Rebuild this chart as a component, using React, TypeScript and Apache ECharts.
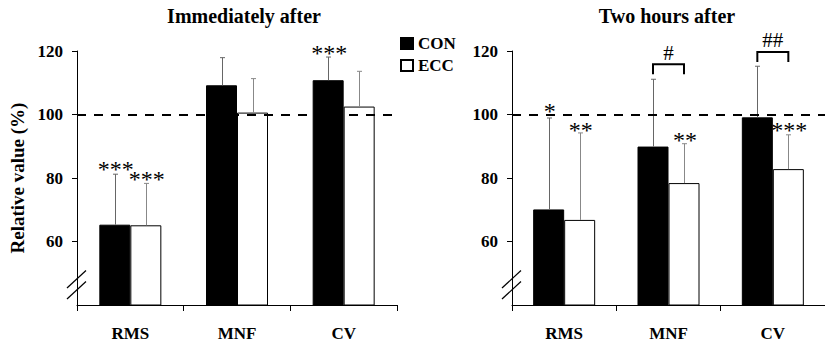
import React, { useEffect, useRef } from "react";
import * as echarts from "echarts";

const categories = ["RMS", "MNF", "CV"];
const yTicks = [40, 60, 80, 100, 120];
const seriesNames = ["CON", "ECC"];
const titles = ["Immediately after", "Two hours after"];

// Immediately after
const conMeanA = [65.3, 109.2, 110.8];
const conUpperA = [81.2, 117.9, 118.1];
const eccMeanA = [65.1, 100.6, 102.5];
const eccUpperA = [78.3, 111.3, 113.6];

// Two hours after
const conMeanB = [70.1, 89.9, 99.1];
const conUpperB = [98.9, 111.1, 115.2];
const eccMeanB = [66.8, 78.4, 82.8];
const eccUpperB = [94.2, 90.8, 93.6];

// significance marks: [category, side (0 CON, 1 ECC), value, text]
const starsA: [number, number, number, string][] = [
  [0, 0, 84.7, "***"],
  [0, 1, 81.6, "***"],
  [2, 0, 121.3, "***"],
];
const starsB: [number, number, number, string][] = [
  [0, 0, 103.0, "*"],
  [0, 1, 97.0, "**"],
  [1, 1, 93.9, "**"],
  [2, 1, 97.0, "***"],
];
// brackets between CON and ECC: [category, bottom, top, label, labelValue]
const bracketsB: [number, number, number, string, number][] = [
  [1, 112.7, 115.8, "#", 119.4],
  [2, 116.5, 119.7, "##", 123.4],
];

const FONT = "'Liberation Serif', 'Times New Roman', serif";
const HALF = 15.5;
const GRIDS = [
  { left: 77, top: 51, width: 320, height: 254 },
  { left: 512, top: 51, width: 321, height: 254 },
];

export default function App() {
  const ref = useRef<HTMLDivElement>(null);
  useEffect(() => {
    if (!ref.current) return;
    const chart = echarts.init(ref.current, undefined, { renderer: "svg" });

    const errSeries = (idx: number, con: number[], conU: number[], ecc: number[], eccU: number[]) => {
      const data: number[][] = [];
      con.forEach((v, i) => data.push([i, 0, v, conU[i]]));
      ecc.forEach((v, i) => data.push([i, 1, v, eccU[i]]));
      return {
        type: "custom",
        xAxisIndex: idx,
        yAxisIndex: idx,
        z: 5,
        silent: true,
        data,
        renderItem: (params: any, api: any) => {
          const cat = api.value(0);
          const side = api.value(1);
          const dx = side === 0 ? -HALF : HALF;
          const p0 = api.coord([cat, api.value(2)]);
          const p1 = api.coord([cat, api.value(3)]);
          const x = Math.round(p0[0] + dx) + 0.5;
          const color = side === 0 ? "#666" : "#888";
          return {
            type: "group",
            children: [
              { type: "line", shape: { x1: x, y1: p0[1], x2: x, y2: p1[1] }, style: { stroke: color, lineWidth: 1 } },
              { type: "line", shape: { x1: x - 2.5, y1: p1[1], x2: x + 2.5, y2: p1[1] }, style: { stroke: color, lineWidth: 1 } },
            ],
          };
        },
      };
    };

    const starSeries = (idx: number, stars: [number, number, number, string][]) => ({
      type: "custom",
      xAxisIndex: idx,
      yAxisIndex: idx,
      z: 6,
      silent: true,
      data: stars.map((s) => [s[0], s[1], s[2], s[3]]),
      renderItem: (params: any, api: any) => {
        const d = stars[params.dataIndex];
        const p = api.coord([d[0], d[2]]);
        const dx = d[1] === 0 ? -HALF : HALF;
        return {
          type: "text",
          x: p[0] + dx + 1,
          y: p[1] + 6,
          style: {
            text: d[3],
            fill: "#000",
            font: `24px ${FONT}`,
            textAlign: "center",
            textVerticalAlign: "middle",
          },
        };
      },
    });

    const bracketSeries = (idx: number, br: [number, number, number, string, number][]) => ({
      type: "custom",
      xAxisIndex: idx,
      yAxisIndex: idx,
      z: 6,
      silent: true,
      data: br.map((b) => [b[0], b[1], b[2], b[4]]),
      renderItem: (params: any, api: any) => {
        const b = br[params.dataIndex];
        const pb = api.coord([b[0], b[1]]);
        const pt = api.coord([b[0], b[2]]);
        const pl = api.coord([b[0], b[4]]);
        const xl = pb[0] - HALF;
        const xr = pb[0] + HALF;
        return {
          type: "group",
          children: [
            {
              type: "polyline",
              shape: { points: [[xl, pb[1]], [xl, pt[1]], [xr, pt[1]], [xr, pb[1]]] },
              style: { stroke: "#000", lineWidth: 2, fill: null },
            },
            {
              type: "text",
              x: pl[0],
              y: pl[1],
              style: {
                text: b[3],
                fill: "#000",
                font: `21px ${FONT}`,
                textAlign: "center",
                textVerticalAlign: "middle",
              },
            },
          ],
        };
      },
    });

    const barSeries = (idx: number, name: string, data: number[], isCon: boolean, withLine: boolean) => ({
      type: "bar",
      name,
      xAxisIndex: idx,
      yAxisIndex: idx,
      data,
      barWidth: 31,
      barGap: "0%",
      z: 2,
      itemStyle: isCon
        ? { color: "#000", borderColor: "#000", borderWidth: 1 }
        : { color: "#fff", borderColor: "#000", borderWidth: 1 },
      markLine: withLine
        ? {
            silent: true,
            symbol: "none",
            z: 10,
            label: { show: false },
            lineStyle: { color: "#000", type: [9, 8], width: 2 },
            data: [{ yAxis: 100 }],
          }
        : undefined,
    });

    const breakMarks: any[] = [];
    GRIDS.forEach((g) => {
      const x = g.left;
      [0, 11].forEach((off) => {
        breakMarks.push({
          type: "line",
          shape: { x1: x - 10, y1: 288 + off, x2: x + 9, y2: 270.5 + off },
          style: { stroke: "#000", lineWidth: 1.2 },
          z: 20,
        });
      });
    });

    const option: any = {
      animation: false,
      backgroundColor: "#fff",
      textStyle: { fontFamily: FONT },
      graphic: [
        {
          type: "text",
          x: 244,
          y: 16,
          style: { text: titles[0], font: `bold 20px ${FONT}`, fill: "#000", textAlign: "center", textVerticalAlign: "middle" },
        },
        {
          type: "text",
          x: 667,
          y: 16,
          style: { text: titles[1], font: `bold 20px ${FONT}`, fill: "#000", textAlign: "center", textVerticalAlign: "middle" },
        },
        ...breakMarks,
      ],
      legend: {
        data: seriesNames,
        icon: "rect",
        orient: "vertical",
        left: 400,
        top: 35,
        itemWidth: 12,
        itemHeight: 11,
        itemGap: 5,
        padding: 0,
        textStyle: { fontFamily: FONT, fontWeight: "bold", fontSize: 17, color: "#000" },
      },
      grid: GRIDS.map((g) => ({ ...g })),
      xAxis: [0, 1].map((i) => ({
        type: "category",
        gridIndex: i,
        data: categories,
        axisLine: { lineStyle: { color: "#000", width: 1 } },
        axisTick: { show: true, length: 6, lineStyle: { color: "#000" } },
        axisLabel: { margin: 20, fontFamily: FONT, fontWeight: "bold", fontSize: 17, color: "#000" },
      })),
      yAxis: [0, 1].map((i) => ({
        type: "value",
        gridIndex: i,
        min: yTicks[0],
        max: yTicks[yTicks.length - 1],
        interval: 20,
        name: i === 0 ? "Relative value (%)" : "",
        nameLocation: "middle",
        nameGap: 50,
        nameRotate: 90,
        nameTextStyle: { fontFamily: FONT, fontWeight: "bold", fontSize: 19, color: "#000" },
        splitLine: { show: false },
        axisLine: { show: true, lineStyle: { color: "#000", width: 1 } },
        axisTick: { show: true, length: 5, lineStyle: { color: "#000" } },
        axisLabel: { showMinLabel: false, margin: 14, fontFamily: FONT, fontWeight: "bold", fontSize: 17, color: "#000" },
      })),
      series: [
        barSeries(0, "CON", conMeanA, true, true),
        barSeries(0, "ECC", eccMeanA, false, false),
        barSeries(1, "CON", conMeanB, true, true),
        barSeries(1, "ECC", eccMeanB, false, false),
        errSeries(0, conMeanA, conUpperA, eccMeanA, eccUpperA),
        errSeries(1, conMeanB, conUpperB, eccMeanB, eccUpperB),
        starSeries(0, starsA),
        starSeries(1, starsB),
        bracketSeries(1, bracketsB),
      ],
    };
    chart.setOption(option);
    return () => chart.dispose();
  }, []);
  return <div ref={ref} style={{ position: "fixed", left: 0, top: 0, width: 825, height: 345 }} />;
}
